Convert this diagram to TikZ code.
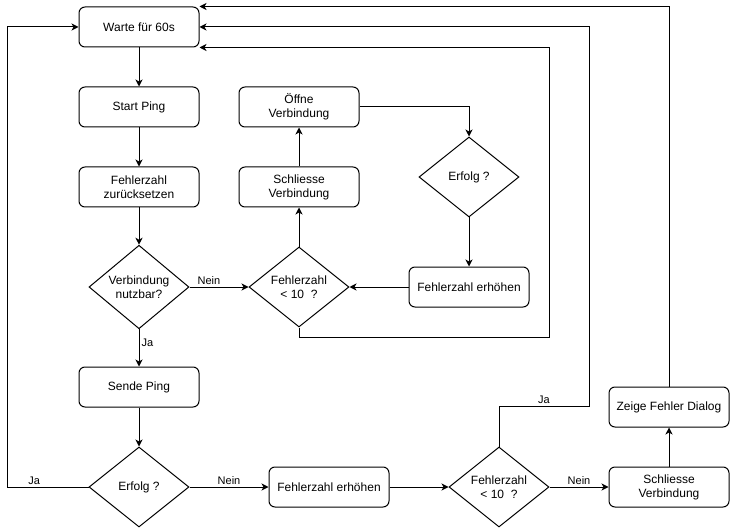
\documentclass[tikz,border=0pt]{standalone}
\usepackage{fontspec}
\setmainfont{Liberation Sans}
\usetikzlibrary{shapes.geometric,arrows.meta}

\begin{document}
\begin{tikzpicture}[x=1pt, y=-1pt, line width=1pt,
		box/.style={draw, rounded corners=6pt, minimum width=120pt, minimum height=40pt, inner sep=0pt, align=center, font=\fontsize{12}{14}\selectfont},
		rhomb/.style={draw, diamond, minimum width=100pt, minimum height=80pt, inner sep=0pt, align=center, font=\fontsize{12}{14}\selectfont},
		arr/.style={-{Stealth[length=7pt, width=7pt, inset=2pt]}},
		lbl/.style={font=\fontsize{11}{13}\selectfont, inner sep=2pt}]
			%%%%% START %%%%%
			
			\fill[white] (0, 0) rectangle (730, 529);
			\useasboundingbox (0, 0) rectangle (730, 529);
			
			% left column
			\node[box] (warte) at (139, 27) {Warte für 60s};
			\node[box] (startping) at (139, 107) {Start Ping};
			\node[box] (reset) at (139, 187) {Fehlerzahl\\zurücksetzen};
			\node[rhomb] (nutzbar) at (139, 287) {Verbindung\\nutzbar?};
			\node[box] (sende) at (139, 387) {Sende Ping};
			\node[rhomb] (erfolgB) at (139, 487) {Erfolg ?};
			
			% reconnect loop
			\node[box] (oeffne) at (299, 107) {Öffne\\Verbindung};
			\node[box] (schliesse) at (299, 187) {Schliesse\\Verbindung};
			\node[rhomb] (fehlerA) at (299, 287) {Fehlerzahl\\< 10\ \ ?};
			\node[rhomb] (erfolgA) at (469, 177) {Erfolg ?};
			\node[box] (erhoehenA) at (469, 287) {Fehlerzahl erhöhen};
			
			% bottom row
			\node[box] (erhoehenB) at (329, 487) {Fehlerzahl erhöhen};
			\node[rhomb] (fehlerB) at (499, 487) {Fehlerzahl\\< 10\ \ ?};
			\node[box] (schliesseB) at (669, 487) {Schliesse\\Verbindung};
			\node[box] (dialog) at (669, 407) {Zeige Fehler Dialog};
			
			\draw[arr] (warte) -- (startping);
			\draw[arr] (startping) -- (reset);
			\draw[arr] (reset) -- (nutzbar);
			\draw[arr] (nutzbar.east) -- node[lbl, above, pos=0.33] {Nein} (fehlerA.west);
			\draw[arr] (nutzbar.south) -- node[lbl, right, pos=0.37] {Ja} (sende);
			\draw[arr] (sende) -- (erfolgB.north);
			\draw[arr] (erfolgB.west) -- node[lbl, above, pos=0.67] {Ja} ++(-81, 0) |- (warte.west);
			\draw[arr] (erfolgB.east) -- node[lbl, above] {Nein} (erhoehenB.west);
			\draw[arr] (erhoehenB.east) -- (fehlerB.west);
			\draw[arr] (fehlerB.east) -- node[lbl, above] {Nein} (schliesseB.west);
			\draw[arr] (schliesseB) -- (dialog);
			\draw[arr] (dialog.north) |- (warte.north east);
			\draw[arr] (fehlerB.north) -- ++(0, -40) -- node[lbl, above] {Ja} ++(90, 0) |- (warte.east);
			
			\draw[arr] (fehlerA.north) -- (schliesse);
			\draw[arr] (schliesse) -- (oeffne);
			\draw[arr] (oeffne.east) -| (erfolgA.north);
			\draw[arr] (erfolgA.south) -- (erhoehenA);
			\draw[arr] (erhoehenA.west) -- (fehlerA.east);
			\draw[arr] (fehlerA.south) -- ++(0, 10) -- ++(250, 0) |- (warte.south east);
			
			%%%%% END %%%%%
		\end{tikzpicture}
\end{document}
